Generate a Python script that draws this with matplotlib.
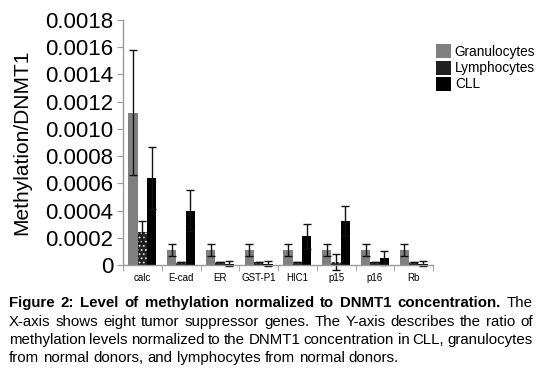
import matplotlib
matplotlib.use("Agg")
import matplotlib.pyplot as plt
import numpy as np
from matplotlib.patches import Patch

genes = ["calc", "E-cad", "ER", "GST-P1", "HIC1", "p15", "p16", "Rb"]
gran = [0.00112, 0.00011, 0.00011, 0.00011, 0.00011, 0.00011, 0.00011, 0.00011]
gran_err = [0.00046, 0.000045, 0.000045, 0.000045, 0.000045, 0.000045, 0.000045, 0.000045]
lymph = [0.00024, 0.00002, 0.00002, 0.00002, 0.00002, 0.00002, 0.00002, 0.00002]
lymph_err = [0.00008, 0.0, 0.0, 0.0, 0.0, 0.00006, 0.0, 0.0]
cll = [0.00064, 0.0004, 0.00001, 0.00001, 0.00021, 0.00032, 0.00005, 0.00001]
cll_err = [0.00023, 0.00015, 0.00002, 0.00002, 0.00009, 0.00011, 0.00005, 0.00002]
series_names = ["Granulocytes", "Lymphocytes", "CLL"]
yticks = [0, 0.0002, 0.0004, 0.0006, 0.0008, 0.0010, 0.0012, 0.0014, 0.0016, 0.0018]
ytick_labels = ["0", "0.0002", "0.0004", "0.0006", "0.0008", "0.0010", "0.0012", "0.0014", "0.0016", "0.0018"]

plt.rcParams['font.family'] = ['Liberation Sans', 'DejaVu Sans']
plt.rcParams['hatch.linewidth'] = 0.8

fig = plt.figure(figsize=(5.41, 3.71), dpi=100)
ax = fig.add_axes([123/541, (371-265)/371, (433-123)/541, (265-20)/371])

x = np.arange(len(genes))
w = 0.24
cols = ["#808080", "#202020", "#000000"]
ekw = dict(ecolor="#111111", elinewidth=1.0, capsize=3, capthick=1.0)
b1 = ax.bar(x - w, gran, w, color=cols[0], yerr=gran_err, error_kw=ekw, zorder=2)
b2 = ax.bar(x, lymph, w, facecolor=cols[1], yerr=lymph_err, error_kw=ekw, zorder=2,
            hatch="....", edgecolor="#dddddd", linewidth=0)
b3 = ax.bar(x + w, cll, w, color=cols[2], yerr=cll_err, error_kw=ekw, zorder=2)
for bars in (b1, b2, b3):
    for r in bars:
        r.set_clip_on(False)
for ln in ax.lines:
    ln.set_clip_on(False)
for coll in ax.collections:
    coll.set_clip_on(False)

ax.set_xlim(-0.5, len(genes) - 0.5)
ax.set_ylim(0, 0.0018)
ax.set_yticks(yticks)
ax.set_yticklabels(ytick_labels, fontsize=16)
ax.set_xticks(x)
ax.set_xticklabels(genes, fontsize=7)
ax.tick_params(axis='x', length=0, pad=6)
ax.set_xticks(np.arange(len(genes) + 1) - 0.5, minor=True)
ax.tick_params(axis='x', which='minor', length=4, color="#999999", direction='out')
ax.tick_params(axis='y', length=4, color="#999999", width=0.8, pad=3)
for s in ["top", "right"]:
    ax.spines[s].set_visible(False)
for s in ["left", "bottom"]:
    ax.spines[s].set_color("#999999")
    ax.spines[s].set_linewidth(1.0)
ax.set_ylabel("Methylation/DNMT1", fontsize=15, labelpad=10)

handles = [Patch(facecolor=c, edgecolor='none') for c in cols]
leg = fig.legend(handles, series_names, loc="upper left", bbox_to_anchor=(431/541, 1 - 39/371),
                 frameon=False, fontsize=9.8, handlelength=1.05, handleheight=1.2,
                 handletextpad=0.3, labelspacing=0.12, borderaxespad=0)

# Caption with justification
renderer = fig.canvas.get_renderer()
fs = 10.8
left_px, right_px = 9, 533
lines = [
    ([("Figure", True), ("2:", True), ("Level", True), ("of", True), ("methylation", True), ("normalized", True),
      ("to", True), ("DNMT1", True), ("concentration.", True), ("The", False)], True),
    ([(wd, False) for wd in "X-axis shows eight tumor suppressor genes. The Y-axis describes the ratio of".split()], True),
    ([(wd, False) for wd in "methylation levels normalized to the DNMT1 concentration in CLL, granulocytes".split()], True),
    ([(wd, False) for wd in "from normal donors, and lymphocytes from normal donors.".split()], False),
]
ys = [303, 322, 340, 358]
t_a = fig.text(0, 0, "a b", fontsize=fs)
t_b = fig.text(0, 0, "ab", fontsize=fs)
space = t_a.get_window_extent(renderer).width - t_b.get_window_extent(renderer).width
t_a.remove(); t_b.remove()
for (words, justify), ypx in zip(lines, ys):
    texts = []
    widths = []
    for wd, bold in words:
        t = fig.text(0, 0, wd, fontsize=fs, fontweight='bold' if bold else 'normal',
                     va='center', ha='left', transform=None)
        texts.append(t)
        widths.append(t.get_window_extent(renderer).width)
    if justify and len(words) > 1:
        gap = (right_px - left_px - sum(widths)) / (len(words) - 1)
    else:
        gap = space
    xp = left_px
    for t, wdt in zip(texts, widths):
        t.set_position((xp, 371 - ypx))
        xp += wdt + gap

fig.savefig("out.png", dpi=100)
